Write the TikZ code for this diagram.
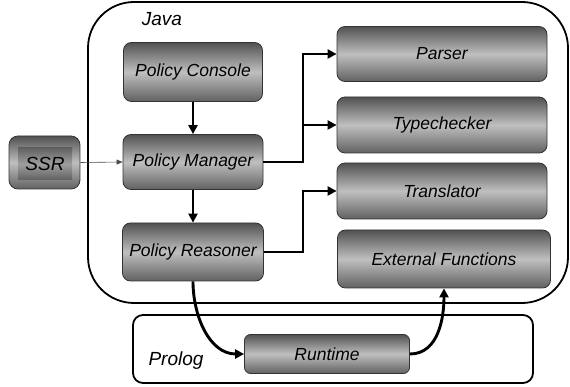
\documentclass[tikz,border=0pt]{standalone}
\usepackage{fontspec}
\setmainfont{Liberation Sans}
\usetikzlibrary{arrows.meta}
\begin{document}
\begin{tikzpicture}[x=1pt,y=-1pt,
  box/.style={draw=black!80, line width=0.8pt, rounded corners=8pt,
    top color=black!68, bottom color=black!62, middle color=black!25,
    font=\fontsize{17.5}{20}\selectfont\itshape, inner sep=0pt},
  cont/.style={draw=black, line width=1.8pt},
  lbl/.style={font=\fontsize{19}{22}\selectfont\itshape, inner sep=0pt},
  arr/.style={draw=black, line width=2.9pt, -{Triangle[length=9pt,width=9pt]}},
  thin/.style={draw=black!70, line width=0.6pt, -{Triangle[length=6pt,width=5pt]}}
]
\useasboundingbox (0,0) rectangle (570,387);
% containers
\draw[cont, rounded corners=46pt] (88,2) rectangle (568,303);
\draw[cont, rounded corners=10pt] (133,315) rectangle (533,383);
\node[lbl] (java) at (162,19) {Java};
\node[lbl] (prolog) at (176,361) {Prolog};
% boxes
\node[box, minimum width=139pt, minimum height=59pt] (pc) at (193,72) {Policy Console};
\node[box, minimum width=140pt, minimum height=55pt] (pm) at (193,162) {Policy Manager};
\node[box, minimum width=141pt, minimum height=58pt] (pr) at (193,252) {Policy Reasoner};
\node[box, minimum width=210pt, minimum height=55pt] (parser) at (442,54) {Parser};
\node[box, minimum width=210pt, minimum height=56pt] (tc) at (442,125) {Typechecker};
\node[box, minimum width=210pt, minimum height=56pt] (tr) at (442,191) {Translator};
\node[box, minimum width=213pt, minimum height=58pt] (ef) at (444,259) {External Functions};
\node[box, minimum width=165pt, minimum height=39pt, rounded corners=6pt] (rt) at (327,354) {Runtime};
% SSR
\node[box, minimum width=71pt, minimum height=53pt, rounded corners=9pt] (ssr) at (44.5,162.5) {};
\node[inner sep=0pt, minimum width=54pt, minimum height=32pt,
  top color=black!62, bottom color=black!62, middle color=black!38,
  font=\fontsize{19}{22}\selectfont\itshape] (ssrin) at (45,164) {SSR};
% connectors
\draw[arr] (pc.south) -- (pm.north);
\draw[arr] (pm.south) -- (pr.north);
\coordinate (j1) at (303,162);
\coordinate (j2) at (303,252);
\draw[arr] (pm.east) -- (j1) |- (parser.west);
\draw[arr] (j1) |- (tc.west);
\draw[arr] (pr.east) -- (j2) |- (tr.west);
\draw[arr] (pr.south) to[out=-90,in=180] (rt.west);
\draw[arr] (rt.east) to[out=0,in=-90] (ef.south);
\draw[thin] (ssr.east) -- (pm.west);
\end{tikzpicture}
\end{document}
